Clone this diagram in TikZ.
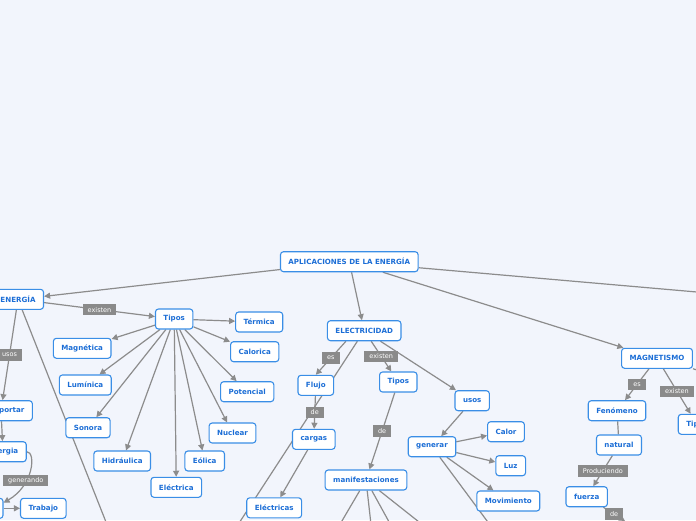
\documentclass[tikz,border=0pt]{standalone}
\usepackage{fontspec}
\setmainfont{DejaVu Sans}
\usetikzlibrary{arrows.meta,backgrounds,calc}
\definecolor{fondo}{HTML}{F2F5FC}
\definecolor{borde}{HTML}{3A8EE6}
\definecolor{texto}{HTML}{1C6ED6}
\definecolor{linea}{HTML}{8C8C8C}
\definecolor{etiq}{HTML}{8A8A8A}

\begin{document}
\begin{tikzpicture}[x=1pt, y=-1pt,
    concepto/.style={draw=borde, line width=1.1pt, fill=white, rounded corners=3pt,
      minimum height=20pt, inner xsep=8pt, inner ysep=2pt,
      font=\fontsize{7.1}{8}\selectfont\bfseries, text=texto},
    trazo/.style={draw=linea, line width=1.2pt},
    enlace/.style={trazo, -{Triangle[length=6pt,width=6pt]}},
    etiqueta/.style={fill=etiq, text=white, font=\fontsize{6.5}{7}\selectfont,
      inner xsep=5pt, inner ysep=1pt, minimum height=11.5pt}]
    \useasboundingbox (0,0) rectangle (696,520);

    \node[concepto] (apl) at (349.3,261.7) {APLICACIONES DE LA ENERGÍA};

    \node[concepto] (ener)       at (18,299.3)    {ENERGÍA};
    \node[concepto] (tipos1)     at (174.2,319)   {Tipos};
    \node[concepto] (termica)    at (259.2,322)   {Térmica};
    \node[concepto] (calorica)   at (254.7,351.7) {Calorica};
    \node[concepto] (magnetica)  at (82.2,348.3)  {Magnética};
    \node[concepto] (luminica)   at (85.3,385)    {Lumínica};
    \node[concepto] (potencial)  at (247.2,391.7) {Potencial};
    \node[concepto] (sonora)     at (88,427.7)    {Sonora};
    \node[concepto] (nuclear)    at (232.5,433)   {Nuclear};
    \node[concepto] (hidraulica) at (122.2,461)   {Hidráulica};
    \node[concepto] (eolica)     at (204.7,461)   {Eólica};
    \node[concepto] (electrica)  at (176.3,487.3) {Eléctrica};
    \node[concepto] (transp)     at (1,410.7)     {Transportar};
    \node[concepto] (energia)    at (3,451.7)     {Energia};
    \node[concepto, minimum width=52pt] (oculto) at (-23,508.3) {};
    \node[concepto] (trabajo)    at (43.3,508.3)  {Trabajo};

    \node[concepto] (elec)       at (364.2,330.7) {ELECTRICIDAD};
    \node[concepto] (flujo)      at (315.8,385.3) {Flujo};
    \node[concepto] (cargas)     at (313.8,439.3) {cargas};
    \node[concepto] (electricas) at (274.2,507.8) {Eléctricas};
    \node[concepto] (tipos2)     at (398.3,382)   {Tipos};
    \node[concepto] (manif)      at (366,480)     {manifestaciones};
    \node[concepto] (usos)       at (472.2,400.7) {usos};
    \node[concepto] (generar)    at (432,446.7)   {generar};
    \node[concepto] (calor)      at (506,431.7)   {Calor};
    \node[concepto] (luz)        at (510.7,465.7) {Luz};
    \node[concepto] (movim)      at (508.3,501)   {Movimiento};

    \node[concepto] (magnet)     at (657,358.3)   {MAGNETISMO};
    \node[concepto] (fenomeno)   at (617,410.7)   {Fenómeno};
    \node[concepto] (natural)    at (619,445)     {natural};
    \node[concepto] (fuerza)     at (586.7,496.7) {fuerza};
    \node[concepto] (tipos3)     at (697,424.3)   {Tipos};

    \coordinate (fueraA)  at (800,301);
    \coordinate (fueraE)  at (121,560);
    \coordinate (fueraC)  at (215,560);
    \coordinate (fueraM1) at (319,560);
    \coordinate (fueraM2) at (375,560);
    \coordinate (fueraM3) at (410,560);
    \coordinate (fueraM4) at (467,560);
    \coordinate (fueraG)  at (516,560);
    \coordinate (fueraMg) at (800,400);
    \coordinate (fueraF)  at (625,521);

    \begin{scope}[on background layer]
      \fill[fondo] (0,0) rectangle (696,520);
      \draw[enlace] (apl) -- (ener);
      \draw[enlace] (apl) -- (elec);
      \draw[enlace] (apl) -- (magnet);
      \draw[enlace] (apl) -- (fueraA);

      \draw[enlace] (ener) -- node[etiqueta] {existen} (tipos1);
      \draw[enlace] (ener) -- node[etiqueta] {usos} (transp);
      \draw[enlace] (ener) -- (fueraE);
      \draw[enlace] (tipos1) -- (termica);
      \draw[enlace] (tipos1) -- (calorica);
      \draw[enlace] (tipos1) -- (magnetica);
      \draw[enlace] (tipos1) -- (luminica);
      \draw[enlace] (tipos1) -- (potencial);
      \draw[enlace] (tipos1) -- (sonora);
      \draw[enlace] (tipos1) -- (nuclear);
      \draw[enlace] (tipos1) -- (hidraulica);
      \draw[enlace] (tipos1) -- (eolica);
      \draw[enlace] (tipos1) -- (electrica);
      \draw[enlace] (transp) -- (energia);
      \draw[enlace] (energia.east) .. controls (36,452) and (34,485) ..
        node[etiqueta, pos=0.65] {generando} ($(oculto.north east)+(0,5)$);
      \draw[enlace] (oculto) -- (trabajo);

      \draw[enlace] (elec.210) -- node[etiqueta] {es} (flujo.north);
      \draw[enlace] (elec) -- (fueraC);
      \draw[enlace] (elec) -- node[etiqueta] {existen} (tipos2);
      \draw[enlace] (elec) -- (usos);
      \draw[enlace] (flujo) -- node[etiqueta] {de} (cargas);
      \draw[enlace] (cargas) -- (electricas);
      \draw[enlace] (tipos2) -- node[etiqueta] {de} (manif);
      \draw[enlace] (manif) -- (fueraM1);
      \draw[enlace] (manif) -- (fueraM2);
      \draw[enlace] (manif) -- (fueraM3);
      \draw[enlace] (manif) -- (fueraM4);
      \draw[enlace] (usos) -- (generar);
      \draw[enlace] (generar) -- (calor);
      \draw[enlace] (generar) -- (luz);
      \draw[enlace] (generar) -- (movim);
      \draw[enlace] (generar) -- (fueraG);

      \draw[enlace] (magnet) -- node[etiqueta] {es} (fenomeno);
      \draw[enlace] (magnet) -- node[etiqueta] {existen} (tipos3);
      \draw[enlace] (magnet) -- (fueraMg);
      \draw[trazo] (fenomeno) -- (natural);
      \draw[enlace] (natural) -- node[etiqueta] {Produciendo} (fuerza);
      \draw[enlace] (fuerza) -- node[etiqueta] {de} (fueraF);
    \end{scope}
  \end{tikzpicture}
\end{document}
